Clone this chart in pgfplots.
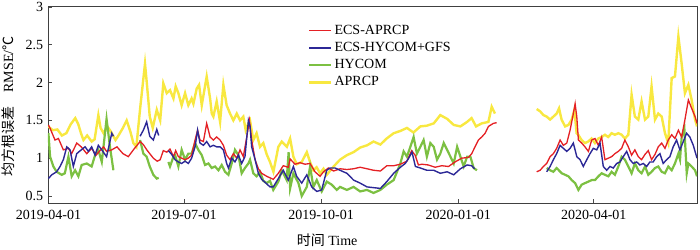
\documentclass[border=0pt]{standalone}
\usepackage{fontspec}
\setmainfont{Liberation Serif}
\newfontfamily\cjk{Noto Sans CJK SC}
\usepackage{pgfplots}
\pgfplotsset{compat=1.18}
\definecolor{cRed}{RGB}{228,32,36}
\definecolor{cBlue}{RGB}{44,40,150}
\definecolor{cGreen}{RGB}{124,192,66}
\definecolor{cYellow}{RGB}{248,232,64}
\begin{document}
\fontsize{14}{16}\selectfont
\begin{tikzpicture}[x=1pt,y=1pt]
\begin{axis}[
  scale only axis, width=649pt, height=197pt,
  xmin=-0.3, xmax=435.3, ymin=0.407, ymax=3.013,
  axis line style={black!75, line width=0.9pt},
  tick align=inside, tick pos=left, major tick length=4pt,
  tick style={black!70, line width=0.6pt},
  xtick={0,91,183,275,366},
  xticklabels={2019-04-01,2019-07-01,2019-10-01,2020-01-01,2020-04-01},
  ytick={0.5,1,1.5,2,2.5,3},
  /pgf/number format/assume math mode=true,
  tick label style={font=\fontsize{14}{16}\selectfont},
  xticklabel style={yshift=-2pt},
  unbounded coords=jump,
  xlabel={{\cjk 时间} Time},
  xlabel style={at={(axis description cs:0.43,-0.188)}, anchor=center},
  ylabel={{\cjk 均方根误差}\quad RMSE/{\cjk ℃}},
  ylabel style={at={(axis description cs:-0.062,0.49)}, anchor=center},
  legend style={at={(axis description cs:0.4006,0.914)}, anchor=north west,
    draw=none, fill=none, inner sep=0pt, row sep=1.8pt,
    font=\fontsize{14}{16}\selectfont},
  legend cell align=left,
  legend image code/.code={\draw[#1] (0pt,0pt) -- (22pt,0pt);},
]
\addlegendimage{cRed, line width=1.3pt}\addlegendentry{ECS-APRCP}
\addlegendimage{cBlue, line width=1.4pt}\addlegendentry{ECS-HYCOM+GFS}
\addlegendimage{cGreen, line width=2.2pt}\addlegendentry{HYCOM}
\addlegendimage{cYellow, line width=2.4pt}\addlegendentry{APRCP}

% APRCP (yellow)
\addplot[cYellow, line width=2.4pt, forget plot] coordinates {
(0,1.42)(1,1.40)(3,1.37)(6,1.38)(9,1.30)(12,1.33)(15,1.45)(18,1.53)(20,1.45)(22,1.32)(23.5,1.24)(26,1.30)(29,1.22)(31,1.25)(33.5,1.57)(35,1.40)(37,1.33)(39.5,1.42)(42,1.35)(45,1.24)(47,1.30)(50,1.40)(52.5,1.50)(55,1.35)(57,1.20)(59,1.15)(61.5,1.65)(64.8,2.25)(66,2.0)(68,1.55)(70,1.40)(72.7,1.64)(75,1.50)
(77.1,1.99)(79.4,1.86)(81.6,1.90)(83.9,1.79)(85.4,1.95)(87.2,1.86)(89.4,1.70)(91.7,1.86)(93.9,1.70)(96.1,1.79)(97.3,1.72)(99.5,1.92)(101.1,1.97)(102.9,1.70)(106.2,2.08)(108.5,1.79)(109.6,1.59)(110.7,1.55)(112.9,1.75)(115.2,1.48)(117.4,1.97)(119.6,1.70)(121.9,1.59)(124.1,1.50)(126.4,1.59)(128.6,1.50)(130.8,1.55)(132.4,1.37)(134.2,1.46)(135.3,1.50)(137.5,1.24)(139.7,1.33)(142,1.15)(144.2,1.20)(146.5,1.05)(148.7,0.95)
(151,0.82)(154.3,1.15)(156.6,1.22)(160,1.15)(162.2,1.26)(164.4,1.02)(166.6,0.92)(170,0.95)(173.4,1.08)(175.6,0.95)(177.8,0.84)(180,0.88)(182.3,0.80)(184.6,0.86)(186.8,0.78)(191.4,0.89)(195.7,0.98)(200.3,1.04)(204.8,1.08)(209.2,1.14)(213.8,1.17)(218.2,1.22)(222.8,1.18)(227,1.26)(231.7,1.33)(236.2,1.36)(240.6,1.40)(245,1.34)(249.6,1.42)(254,1.43)(258.6,1.46)(263,1.57)(267.6,1.52)(272,1.44)(276.5,1.42)(281,1.48)(284,1.53)(287,1.42)(290.8,1.46)(295.3,1.48)(297.5,1.68)(299.7,1.59)
(310,nan)
(327.7,1.65)(330,1.62)(332.2,1.57)(334.4,1.55)(336.7,1.51)(338.9,1.55)(341.1,1.59)(342.7,1.66)(344.4,1.51)(346.8,1.42)(349,1.44)(351.2,1.51)(353,1.64)(354.5,1.33)(355.6,1.31)(357.8,1.24)(360.1,1.20)(362.3,1.22)(364.5,1.26)(366.8,1.20)(369,1.26)(371.3,1.28)(373.5,1.31)(375.7,1.28)(378,1.33)(380.2,1.31)(382.5,1.33)(384.7,1.31)(386.9,1.26)(389.2,1.31)(391.4,1.84)(393.6,1.55)(395.9,1.51)(398.1,1.75)(400.4,1.51)(402.6,1.55)(404.8,1.95)(407.1,1.51)(409.3,1.59)(411.6,1.55)(413.8,1.33)(416,1.20)(418.3,2.06)(420.5,2.08)(422.8,2.61)(425,2.25)(427.2,1.86)(429.5,1.97)(431.7,1.77)(434,1.51)(435.3,1.42)
};

% HYCOM (green)
\addplot[cGreen, line width=2.2pt, forget plot] coordinates {
(0,1.33)(1.1,1.02)(3.3,0.89)(5.5,0.82)(8.9,0.78)(11,0.80)(13.4,1.02)(15.6,0.76)(17.9,0.84)(20.1,0.76)(22.3,0.91)(25.7,0.93)(29,0.89)(31.3,1.04)(33.5,1.11)(35.8,0.95)(37.5,1.25)(39,1.52)(41.3,1.15)(43.6,0.84)
(50,nan)
(61.5,1.24)(63.7,1.06)(65.9,1.02)(68,0.89)(70.4,0.78)(72.7,0.73)(74,0.74)
(77,nan)
(80.5,0.95)(81.6,0.89)(83.9,1.02)(85,1.04)(87.2,0.89)(89.4,1.11)(91.7,0.98)(93.9,1.06)(96.1,1.06)(98.4,1.20)(100.6,1.11)(102.9,1.04)(105.1,0.91)(107.4,0.93)(109.6,0.87)(111.8,0.89)(114.1,0.84)(116.3,0.91)(118.5,0.82)(120.8,0.78)(123,0.93)(125.2,1.11)(127.5,1.04)(129.7,0.80)(131.9,0.87)(134.2,0.93)(135.3,0.98)(137.5,0.80)(139.7,0.76)(142,0.82)(144.2,0.70)(146.5,0.67)(148.7,0.70)(150.9,0.58)(154.3,0.69)(156.6,0.84)(159.9,0.71)(161.2,1.08)(162.2,0.60)(164.4,0.80)(167.8,0.67)(170,0.50)(173.4,0.62)(175.6,0.89)(177.8,0.62)(180.1,0.71)(183.4,0.56)(186.8,0.69)(190.1,0.65)(193.5,0.58)(195.7,0.62)(200.3,0.58)(204.8,0.62)(209.2,0.56)(213.8,0.58)(218.2,0.54)(222.8,0.58)(227.1,0.65)(231.7,0.71)(236.2,0.93)(238.4,1.09)(240.6,1.02)(242.9,1.15)(245.1,1.28)(247.3,1.06)(249.6,1.15)(251.8,1.24)(254,1.02)(256.3,1.20)(258.6,1.15)(260.8,0.98)(263,1.06)(265.3,1.20)(267.6,1.11)(269.8,1.02)(272,0.93)(274.3,1.15)(276.5,1.02)(278.7,0.89)(281,1.02)(283.2,1.02)(285.4,0.87)(287.6,0.84)
(310,nan)
(334.4,0.87)(336.7,0.84)(338.9,0.82)(341.1,0.87)(344.5,0.80)(346.8,0.78)(349,0.76)(351.2,0.71)(353.5,0.67)(355.7,0.58)(357.9,0.65)(360.1,0.67)(362.4,0.69)(364.6,0.71)(366.8,0.71)(369.1,0.76)(371.3,0.80)(373.5,0.78)(375.8,0.76)(378,0.82)(380.2,0.78)(382.5,0.89)(384.7,1.02)(386.9,0.98)(389.2,0.89)(391.4,0.80)(393.6,0.93)(395.9,0.84)(398.1,0.80)(400.4,0.89)(402.6,0.78)(404.8,0.82)(407.1,0.87)(409.3,0.89)(411.6,0.82)(413.8,0.80)(416,0.89)(418.3,0.84)(420.5,0.93)(422.8,1.06)(423.9,0.98)(425,1.28)(426.8,1.40)(428.4,0.80)(429.5,0.93)(431.7,0.89)(434,0.84)(435.3,0.76)
};

% ECS-APRCP (red)
\addplot[cRed, line width=1.3pt, forget plot] coordinates {
(0,1.44)(1,1.40)(4.4,1.24)(6.7,1.26)(10,1.11)(13.4,1.13)(15.6,1.06)(19,1.20)(22,1.15)(25.7,1.06)(29,1.13)(32,1.04)(34.6,1.10)(37,1.15)(39,1.09)(42.5,1.11)(46,1.15)(50,1.06)(53.6,1.02)(57,1.11)(61.5,1.22)(63.7,1.18)(66,1.11)(70.4,1.00)(73,0.96)(75,0.98)(77.1,1.10)(79.4,1.08)(81.6,1.12)(83.9,1.02)(85.4,1.10)(87.2,1.02)(89.4,1.00)(91.7,0.98)(93.9,1.0)(96.1,1.04)(98.4,1.24)(100.1,1.37)(101.7,1.24)(104,1.22)(106.2,1.46)(108.5,1.28)(110.7,1.24)(112.9,1.28)(115.2,1.24)(117.4,1.17)(119.6,1.04)(121.9,0.98)(124.1,1.06)(126.4,1.00)(128.6,1.11)(130.8,1.02)(133.1,1.28)(134.9,1.50)(136.4,1.24)(138.7,0.98)(140.9,0.86)(143.1,0.80)(146.5,0.76)(148.7,0.74)(150.9,0.72)(154.3,0.80)(157.6,0.90)(161,0.88)(162.2,0.99)(165.5,0.92)(168.9,0.94)(172.2,0.92)(175.6,0.93)(178.9,0.82)(182.3,0.76)(184.6,0.82)(187.9,0.87)(191.4,0.83)(195.7,0.86)(200.3,0.85)(204.8,0.86)(209.2,0.88)(213.8,0.86)(218.2,0.84)(222.8,0.83)(227.1,0.90)(231.7,0.90)(236.2,0.92)(240.6,0.96)(243.8,1.10)(246.1,1.04)(248.3,0.91)(250.6,0.92)(255,0.91)(259.5,0.88)(264,0.90)(268.5,0.89)(272.9,0.95)(277.4,1.0)(281.9,1.01)(284.1,1.06)(286.3,1.15)(288.6,1.24)(290.8,1.28)(293.1,1.33)(295.3,1.42)(298.6,1.46)(300.8,1.47)
(310,nan)
(327.7,0.82)(330,0.84)(332.2,0.89)(334.4,0.93)(336.7,1.02)(338.9,1.06)(341.1,1.13)(343.4,1.24)(345.6,1.17)(347.9,1.20)(350.1,1.37)(352.3,1.59)(353.5,1.72)(354.6,1.55)(355.7,1.24)(357.9,1.20)(360.1,1.15)(362.4,1.09)(364.6,1.24)(366.8,1.26)(369.1,1.17)(371.3,1.28)(373.5,0.98)(375.8,1.0)(378,1.02)(380.2,1.06)(382.5,1.09)(384.7,1.13)(386.9,1.24)(389.2,1.15)(391.4,1.04)(393.6,1.11)(395.9,1.02)(398.1,0.98)(400.4,1.05)(402.6,1.10)(404.8,0.98)(407.1,1.05)(409.3,1.15)(411.6,1.20)(413.8,1.13)(416,1.24)(418.3,1.31)(420.5,1.26)(422.8,1.37)(425,1.28)(427.2,1.51)(429.5,1.77)(431.7,1.66)(434,1.55)(435.3,1.46)
};

% ECS-HYCOM+GFS (blue)
\addplot[cBlue, line width=1.4pt, forget plot] coordinates {
(0,0.73)(2.2,0.78)(5.5,0.82)(7.8,0.89)(10,0.98)(12.3,1.15)(14.5,1.11)(16.7,0.89)(19,1.06)(22,1.11)(24.6,1.15)(26.8,1.09)(29,1.15)(31.3,1.04)(33.5,1.17)(35.8,1.11)(39,1.02)(42.5,1.33)(43.6,1.29)
(50,nan)
(61.5,1.29)(63.7,1.37)(65.9,1.48)(68,1.29)(70.4,1.24)(72.7,1.38)(74,1.30)
(77,nan)
(80.5,1.10)(82.7,1.05)(85,0.98)(87.2,0.95)(89.4,0.93)(91.7,0.96)(93.9,0.93)(96.1,1.0)(98.4,1.15)(100.1,1.37)(101.7,1.20)(104,1.17)(106.2,1.22)(108.5,1.15)(110.7,1.17)(112.9,1.15)(115.2,1.15)(117.4,1.11)(119.6,0.93)(120.8,0.87)(123,1.0)(125.2,0.95)(127.5,1.04)(129.7,0.93)(131.9,1.02)(134.2,1.50)(135.3,1.42)(136.4,1.15)(138.7,0.98)(140.9,0.80)(143.1,0.72)(146.5,0.66)(148.7,0.62)(150.9,0.62)(154.3,0.73)(157.6,0.84)(161,0.71)(164.4,0.89)(166.6,0.76)(170,0.67)(173.4,0.78)(176.7,0.62)(180.1,0.56)(183.4,0.58)(186.8,0.84)(189,0.87)(192.4,0.87)(195.7,0.84)(200.3,0.80)(204.8,0.71)(209.2,0.67)(213.8,0.62)(218.2,0.61)(222.8,0.60)(227.1,0.69)(231.7,0.80)(236.2,0.88)(239.5,0.93)(241.8,1.0)(244,1.08)(246.3,0.89)(249.6,0.87)(254,0.84)(258.6,0.84)(263,0.80)(267.6,0.82)(272,0.78)(276.5,0.86)(281,0.91)(284.1,0.90)(286,0.86)
(310,nan)
(334.4,0.82)(336.7,0.89)(338.9,0.98)(341.1,1.06)(343.4,1.17)(345.6,1.13)(347.9,1.09)(350.1,1.13)(352.3,1.20)(354.6,1.02)(356.8,0.98)(359,0.89)(361.3,0.98)(363.5,1.06)(365.7,1.13)(368,1.11)(370.2,1.20)(372.4,0.89)(374.7,0.84)(376.9,0.89)(379.1,0.87)(381.4,0.93)(383.6,0.95)(385.8,1.02)(388.1,1.09)(390.3,0.98)(392.5,0.93)(394.8,0.95)(397,0.91)(399.2,0.93)(401.5,0.89)(403.7,0.95)(405.9,0.95)(408.2,1.02)(410.4,1.06)(412.6,0.93)(414.9,0.98)(417.1,1.02)(419.3,1.15)(421.6,1.24)(423.8,1.11)(426.1,1.22)(428.3,1.33)(430.5,1.28)(432.8,1.17)(435.3,1.0)
};
\end{axis}
\pgfresetboundingbox
\path[use as bounding box] (-48,-46) rectangle (652,203);
\end{tikzpicture}
\end{document}
